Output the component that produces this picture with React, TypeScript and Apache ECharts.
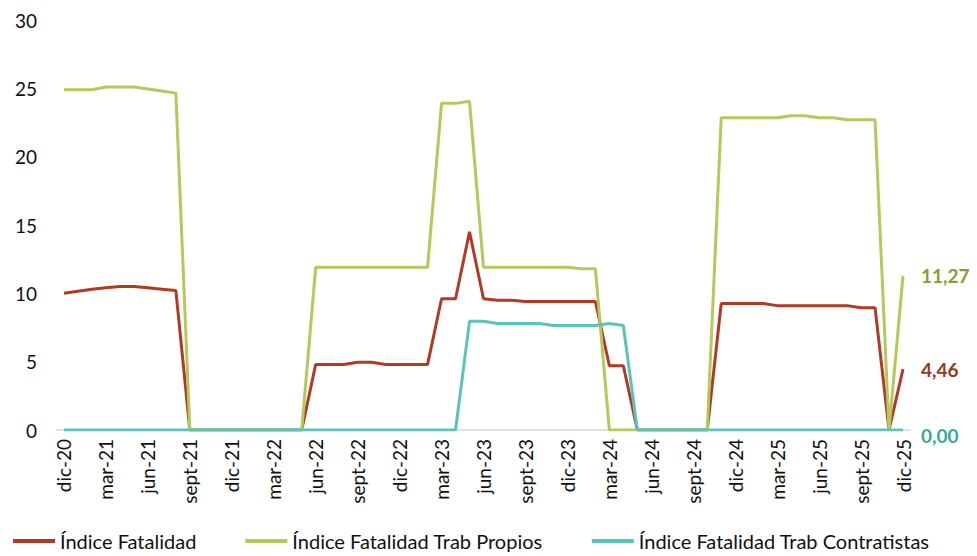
import React, { useEffect, useRef } from "react";
import * as echarts from "echarts";

const categories = [
  "dic-20", "ene-21", "feb-21", "mar-21", "abr-21", "may-21", "jun-21", "jul-21", "ago-21", "sept-21", "oct-21", "nov-21",
  "dic-21", "ene-22", "feb-22", "mar-22", "abr-22", "may-22", "jun-22", "jul-22", "ago-22", "sept-22", "oct-22", "nov-22",
  "dic-22", "ene-23", "feb-23", "mar-23", "abr-23", "may-23", "jun-23", "jul-23", "ago-23", "sept-23", "oct-23", "nov-23",
  "dic-23", "ene-24", "feb-24", "mar-24", "abr-24", "may-24", "jun-24", "jul-24", "ago-24", "sept-24", "oct-24", "nov-24",
  "dic-24", "ene-25", "feb-25", "mar-25", "abr-25", "may-25", "jun-25", "jul-25", "ago-25", "sept-25", "oct-25", "nov-25",
  "dic-25",
];

const indiceFatalidad = [
  10.0, 10.15, 10.3, 10.4, 10.5, 10.5, 10.4, 10.3, 10.2,
  0, 0, 0, 0, 0, 0, 0, 0, 0,
  4.8, 4.8, 4.8, 4.95, 4.95, 4.8, 4.8, 4.8, 4.8,
  9.6, 9.6, 14.5, 9.6, 9.5, 9.5, 9.4, 9.4, 9.4, 9.4, 9.4, 9.4,
  4.7, 4.7,
  0, 0, 0, 0, 0, 0,
  9.25, 9.25, 9.25, 9.25, 9.1, 9.1, 9.1, 9.1, 9.1, 9.1, 8.95, 8.95,
  0, 4.46,
];

const indicePropios = [
  24.9, 24.9, 24.9, 25.1, 25.1, 25.1, 24.95, 24.8, 24.65,
  0, 0, 0, 0, 0, 0, 0, 0, 0,
  11.9, 11.9, 11.9, 11.9, 11.9, 11.9, 11.9, 11.9, 11.9,
  23.9, 23.9, 24.05,
  11.9, 11.9, 11.9, 11.9, 11.9, 11.9, 11.9, 11.8, 11.8,
  0, 0, 0, 0, 0, 0, 0, 0,
  22.85, 22.85, 22.85, 22.85, 22.85, 23.0, 23.0, 22.85, 22.85, 22.7, 22.7, 22.7,
  0, 11.27,
];

const indiceContratistas = [
  0, 0, 0, 0, 0, 0, 0, 0, 0, 0, 0, 0, 0, 0, 0, 0, 0, 0, 0, 0, 0, 0, 0, 0, 0, 0, 0, 0, 0,
  7.95, 7.95, 7.8, 7.8, 7.8, 7.8, 7.65, 7.65, 7.65, 7.65, 7.8, 7.65,
  0, 0, 0, 0, 0, 0, 0, 0, 0, 0, 0, 0, 0, 0, 0, 0, 0, 0, 0, 0,
];

const seriesNames = [
  "Índice Fatalidad",
  "Índice Fatalidad Trab Propios",
  "Índice Fatalidad Trab Contratistas",
];

const FONT = "Lato, 'Noto Sans', sans-serif";

export default function App() {
  const ref = useRef<HTMLDivElement>(null);

  useEffect(() => {
    if (!ref.current) return;
    const chart = echarts.init(ref.current, null, { renderer: "svg" });
    const fmt = (p: any) => Number(p.value).toFixed(2).replace(".", ",");
    const mk = (name: string, data: number[], color: string, labelColor: string, offset: number[]) => ({
      name,
      type: "line",
      data,
      symbol: "none",
      lineStyle: { color, width: 3 },
      itemStyle: { color },
      endLabel: {
        show: true,
        formatter: fmt,
        color: labelColor,
        fontFamily: FONT,
        fontWeight: "bold",
        fontSize: 19,
        distance: 18,
        offset,
      },
    });
    chart.setOption({
      animation: false,
      textStyle: { fontFamily: FONT },
      grid: { left: 57, right: 67, top: 20, bottom: 126, containLabel: false },
      legend: {
        left: 8,
        top: 525,
        icon: "rect",
        itemWidth: 42,
        itemHeight: 4,
        itemGap: 49,
        padding: [5, 5, 5, 5],
        textStyle: { fontFamily: FONT, fontSize: 20, lineHeight: 22, color: "#111" },
        data: seriesNames,
      },
      xAxis: {
        type: "category",
        data: categories,
        boundaryGap: true,
        axisLine: { lineStyle: { color: "#d9d9d9", width: 1.5 } },
        axisTick: { interval: 2, length: 5, lineStyle: { color: "#d9d9d9", width: 1.5 } },
        axisLabel: {
          interval: 2,
          rotate: 90,
          margin: 9,
          fontFamily: FONT,
          fontSize: 19,
          color: "#111",
        },
        splitLine: { show: false },
      },
      yAxis: {
        type: "value",
        min: 0,
        max: 30,
        interval: 5,
        axisLine: { show: false },
        axisTick: { show: false },
        splitLine: { show: false },
        axisLabel: { fontFamily: FONT, fontSize: 19, color: "#111", margin: 20 },
      },
      series: [
        mk(seriesNames[0], indiceFatalidad, "#B13A26", "#9B3520", [0, 0]),
        mk(seriesNames[1], indicePropios, "#B5C95A", "#8A9C32", [0, 0]),
        mk(seriesNames[2], indiceContratistas, "#5AC4BA", "#3AA79C", [0, 5]),
      ],
    });
    return () => chart.dispose();
  }, []);

  return (
    <div
      ref={ref}
      style={{ position: "absolute", left: 0, top: 0, width: 977, height: 556 }}
    />
  );
}
